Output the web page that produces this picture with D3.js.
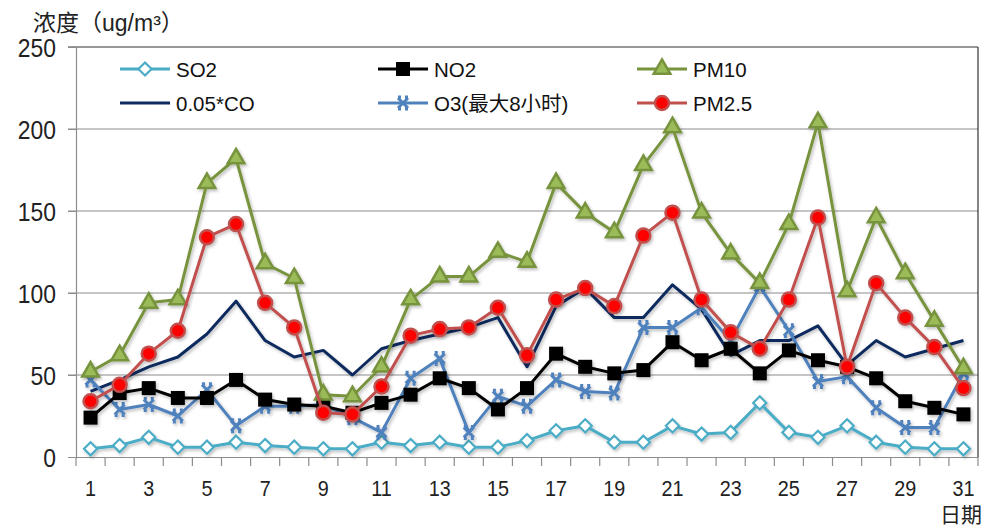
<!DOCTYPE html>
<html>
<head>
<meta charset="utf-8">
<script src="https://cdn.jsdelivr.net/npm/d3@7"></script>
<style>
  body { margin: 0; background: #fff; }
  text { font-family: "Liberation Sans", "Noto Sans CJK SC", sans-serif; }
</style>
</head>
<body>
<div id="chart"></div>
<script>
// daily values
var days = d3.range(1, 32);
var so2  = [5, 7, 12, 6, 6, 9, 7, 6, 5, 5, 9, 7, 9, 6, 6, 10, 16, 19, 9, 9, 19, 14, 15, 33, 15, 12, 19, 9, 6, 5, 5];
var no2  = [24, 39, 42, 36, 36, 47, 35, 32, 31, 27, 33, 38, 48, 42, 29, 42, 63, 55, 51, 53, 70, 59, 66, 51, 65, 59, 55, 48, 34, 30, 26];
var pm10 = [52, 62, 94, 96, 167, 182, 118, 109, 38, 37, 55, 96, 110, 110, 125, 119, 167, 149, 137, 178, 201, 149, 124, 106, 142, 204, 101, 146, 112, 83, 54];
var co   = [40, 47, 55, 61, 75, 95, 71, 61, 65, 50, 66, 71, 75, 79, 85, 55, 92, 103, 85, 85, 105, 90, 62, 71, 71, 80, 56, 71, 61, 66, 71];
var o3   = [47, 29, 32, 25, 41, 19, 31, 31, 32, 24, 15, 48, 60, 15, 37, 31, 47, 40, 39, 79, 79, 91, 71, 104, 77, 46, 49, 30, 18, 18, 51];
var pm25 = [34, 44, 63, 77, 134, 142, 94, 79, 27, 26, 43, 74, 78, 79, 91, 62, 96, 103, 92, 135, 149, 96, 76, 66, 96, 146, 55, 106, 85, 67, 42];
var yTicks = [0, 50, 100, 150, 200, 250];

var series = [
  {name: "SO2", values: so2, color: "#4BACC6", marker: "diamond"},
  {name: "NO2", values: no2, color: "#000000", marker: "square"},
  {name: "PM10", values: pm10, color: "#77933C", marker: "triangle"},
  {name: "0.05*CO", values: co, color: "#0F2A5E", marker: "none"},
  {name: "O3(最大8小时)", values: o3, color: "#4F81BD", marker: "star"},
  {name: "PM2.5", values: pm25, color: "#C0504D", marker: "circle"}
];
// draw order (back to front)
var drawOrder = ["0.05*CO", "SO2", "O3(最大8小时)", "NO2", "PM10", "PM2.5"];

var W = 986, H = 527;
var margin = {top: 47, right: 8, bottom: 70, left: 76};
var width = W - margin.left - margin.right,
    height = H - margin.top - margin.bottom;

var svg = d3.select("#chart").append("svg")
    .attr("width", W).attr("height", H);

var defs = svg.append("defs");
var f = defs.append("filter").attr("id", "shadow")
    .attr("x", "-5%").attr("y", "-5%").attr("width", "110%").attr("height", "120%");
f.append("feDropShadow").attr("dx", 1.5).attr("dy", 2).attr("stdDeviation", 1.5)
    .attr("flood-color", "#000").attr("flood-opacity", 0.25);

var g = svg.append("g").attr("transform", "translate(" + margin.left + "," + margin.top + ")");

var x = d3.scaleBand().domain(days).range([0, width]);
var y = d3.scaleLinear().domain([0, 250]).range([height, 0]);
var cx = function(d) { return x(d) + x.bandwidth() / 2; };

// gridlines
g.append("g").selectAll("line").data(yTicks.slice(1)).enter().append("line")
    .attr("x1", -8).attr("x2", width)
    .attr("y1", d => y(d)).attr("y2", d => y(d))
    .attr("stroke", d => d === 250 ? "#333" : "#8c8c8c").attr("stroke-width", 1.2);
// right border
g.append("line").attr("x1", width).attr("x2", width).attr("y1", 0).attr("y2", height)
    .attr("stroke", "#333").attr("stroke-width", 1.2);

// y axis
var yAxis = g.append("g").call(d3.axisLeft(y).tickValues(yTicks).tickSize(8).tickPadding(0));
yAxis.select(".domain").attr("stroke", "#8c8c8c").attr("stroke-width", 1.2);
yAxis.selectAll(".tick line").attr("stroke", "#8c8c8c");
yAxis.selectAll("text").attr("font-size", 26).attr("fill", "#222")
    .attr("x", 0).attr("dy", "0.36em")
    .attr("transform", "translate(-20,0) scale(0.88,1)");

// x axis with ticks between categories
var xAxis = g.append("g").attr("transform", "translate(0," + height + ")")
    .call(d3.axisBottom(x).tickSize(0).tickPadding(0).tickFormat(d => d % 2 === 1 ? d : ""));
xAxis.select(".domain").attr("stroke", "#8c8c8c").attr("stroke-width", 1.2);
xAxis.selectAll("text").attr("font-size", 22).attr("fill", "#222")
    .attr("y", 0).attr("dy", 0)
    .attr("transform", "translate(0,39) scale(0.9,1)");
g.append("g").attr("transform", "translate(0," + height + ")")
  .selectAll("line").data(days.concat([32])).enter().append("line")
    .attr("x1", d => d === 32 ? width : x(d)).attr("x2", d => d === 32 ? width : x(d))
    .attr("y1", 0).attr("y2", 9).attr("stroke", "#8c8c8c").attr("stroke-width", 1.2);

// axis titles
svg.append("text").attr("x", 33).attr("y", 31).attr("font-size", 23).attr("fill", "#222")
    .attr("font-family", "'Noto Sans CJK SC', sans-serif").text("浓度（ug/m³）");
svg.append("text").attr("x", 982).attr("y", 522).attr("text-anchor", "end").attr("font-size", 21)
    .attr("fill", "#222").attr("font-family", "'Noto Sans CJK SC', sans-serif").text("日期");

function drawMarker(sel, s) {
  if (s.marker === "diamond") {
    sel.append("path").attr("d", d3.symbol(d3.symbolDiamond2, 110)())
      .attr("fill", "#fff").attr("stroke", s.color).attr("stroke-width", 2.2);
  } else if (s.marker === "square") {
    sel.append("rect").attr("x", -7).attr("y", -7).attr("width", 14).attr("height", 14)
      .attr("fill", "#000");
  } else if (s.marker === "triangle") {
    sel.append("path").attr("d", d3.symbol(d3.symbolTriangle, 120)())
      .attr("fill", "#9BBB59").attr("stroke", s.color).attr("stroke-width", 2.5);
  } else if (s.marker === "circle") {
    sel.append("circle").attr("r", 7).attr("fill", "#FF0000")
      .attr("stroke", s.color).attr("stroke-width", 2.5);
  } else if (s.marker === "star") {
    sel.append("path").attr("d", "M-5,-5L5,5M5,-5L-5,5M-5,-6H-2M2,-6H5M-5,6H-2M2,6H5")
      .attr("fill", "none").attr("stroke", s.color).attr("stroke-width", 3);
  }
}

var line = d3.line().x((d, i) => cx(days[i])).y(d => y(d));

drawOrder.forEach(function(nm) {
  var s = series.find(t => t.name === nm);
  var sg = g.append("g").attr("filter", "url(#shadow)");
  sg.append("path").datum(s.values)
    .attr("d", line).attr("fill", "none")
    .attr("stroke", s.color).attr("stroke-width", 3).attr("stroke-linejoin", "round");
  if (s.marker !== "none") {
    sg.selectAll(".m").data(s.values).enter().append("g")
      .attr("transform", (d, i) => "translate(" + cx(days[i]) + "," + y(d) + ")")
      .each(function() { drawMarker(d3.select(this), s); });
  }
});

// legend
var legendPos = [
  {name: "SO2", x: 120, y: 69}, {name: "NO2", x: 378, y: 69}, {name: "PM10", x: 637, y: 69},
  {name: "0.05*CO", x: 120, y: 103}, {name: "O3(最大8小时)", x: 378, y: 103}, {name: "PM2.5", x: 637, y: 103}
];
legendPos.forEach(function(p) {
  var s = series.find(t => t.name === p.name);
  var lg = svg.append("g").attr("transform", "translate(" + p.x + "," + p.y + ")");
  lg.append("line").attr("x1", 0).attr("x2", 50).attr("stroke", s.color).attr("stroke-width", 3);
  if (s.marker !== "none") {
    var mg = lg.append("g").attr("transform", "translate(25,0)");
    drawMarker(mg, s);
  }
  lg.append("text").attr("x", 56).attr("y", 7.5).attr("font-size", 20.5).attr("fill", "#111")
    .attr("font-family", "'Liberation Sans', 'Noto Sans CJK SC', sans-serif")
    .text(s.name);
});
</script>
</body>
</html>
